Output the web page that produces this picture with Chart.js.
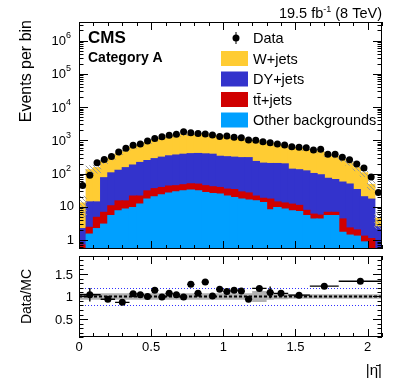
<!DOCTYPE html>
<html>
<head>
<meta charset="utf-8">
<script src="https://cdn.jsdelivr.net/npm/chart.js@4.4.1/dist/chart.umd.min.js"></script>
<style>
  html, body { margin: 0; padding: 0; background: #fff; }
  #wrap { position: relative; width: 407px; height: 383px; }
  #topBox { position: absolute; left: 0; top: 0; width: 407px; height: 253px; }
  #botBox { position: absolute; left: 0; top: 252px; width: 407px; height: 131px; }
</style>
</head>
<body>
<div id="wrap">
  <div id="topBox"><canvas id="mainChart"></canvas></div>
  <div id="botBox"><canvas id="ratioChart"></canvas></div>
</div>
<script>
// bin edges in |eta|
const etaEdges = [0.00, 0.05, 0.10, 0.15, 0.20, 0.25, 0.30, 0.35, 0.40, 0.45, 0.50,
  0.55, 0.60, 0.65, 0.70, 0.75, 0.80, 0.85, 0.90, 0.95, 1.00, 1.05, 1.10, 1.15, 1.20,
  1.25, 1.30, 1.35, 1.40, 1.45, 1.50, 1.55, 1.60, 1.65, 1.70, 1.75, 1.80, 1.85, 1.90,
  1.95, 2.00, 2.05, 2.10];

const dataCounts = [44, 89, 210, 265, 325, 446, 575, 705, 770, 960, 1140, 1280, 1420, 1520,
  1800, 1700, 1600, 1550, 1440, 1310, 1350, 1230, 1200, 1020, 1000, 910, 850, 770, 720, 645,
  615, 600, 510, 535, 380, 380, 310, 260, 195, 147, 79, 27];

const otherBkg = [0.3, 1.5, 2.2, 3.0, 5.4, 7.6, 8.5, 9.5, 12, 17, 20, 23, 26, 28, 30, 32, 30,
  27, 25, 24, 21, 19, 17, 16, 15, 13.4, 8.1, 9.5, 8.5, 7.6, 7.2, 5.4, 4.3, 4.3, 5.4, 5.4, 1.7,
  1.4, 1.3, 0.87, 0.4, 0.3];

const ttJets = [0.4, 0.9, 2.6, 3.8, 5.3, 7.4, 6.5, 11.5, 9, 13, 15, 15, 16, 15, 16, 17, 18, 16,
  15, 14, 13, 14, 11, 10, 6, 4.6, 8.9, 4.5, 4.5, 4.4, 3.8, 2.4, 1.7, 1.3, 1.4, 1.4, 2.6, 0.9,
  0.7, 0.43, 0.7, 0.2];

const dyJets = [1.5, 11.6, 9.2, 68, 94, 110, 135, 159, 194, 215, 245, 272, 298, 317, 334, 346,
  352, 347, 340, 292, 286, 277, 272, 274, 209, 187, 183, 186, 182, 123, 119, 112, 94, 86, 65,
  59, 51, 46, 31, 18.7, 15.9, 2.0];

const wJets = [10.8, 116, 136, 155, 185, 265, 350, 440, 475, 605, 720, 840, 930, 1020, 1090,
  1115, 1100, 1060, 1000, 970, 920, 850, 800, 700, 720, 665, 600, 530, 475, 475, 435, 405, 375,
  353, 283, 259, 205, 157, 117, 85, 30, 2.0];

// relative MC uncertainty (hatched band)
const mcUnc = [0.6, 0.3, 0.3, 0.12, 0.1, 0.08, 0.07, 0.06, 0.06, 0.05, 0.05, 0.05, 0.05, 0.05,
  0.05, 0.05, 0.05, 0.05, 0.05, 0.05, 0.05, 0.05, 0.05, 0.05, 0.05, 0.05, 0.05, 0.05, 0.05,
  0.05, 0.05, 0.05, 0.05, 0.05, 0.07, 0.08, 0.1, 0.12, 0.18, 0.22, 0.3, 0.5];

// ratio panel (coarser binning)
const ratioEdges = [0, 0.15, 0.25, 0.35, 0.40, 0.45, 0.50, 0.55, 0.60, 0.65, 0.70, 0.75, 0.80,
  0.85, 0.90, 0.95, 1.00, 1.05, 1.10, 1.15, 1.20, 1.30, 1.35, 1.45, 1.60, 1.80, 2.10];
const ratioVals = [1.04, 0.94, 0.87, 1.06, 1.04, 1.00, 1.14, 0.99, 1.07, 1.04, 0.99, 1.27, 1.07,
  1.32, 1.01, 1.16, 1.11, 1.14, 1.12, 0.94, 1.18, 1.09, 1.07, 1.03, 1.23, 1.34];
const ratioErrs = [0.15, 0.05, 0.04, 0.06, 0.05, 0.05, 0.06, 0.05, 0.05, 0.05, 0.05, 0.06, 0.05,
  0.06, 0.05, 0.06, 0.06, 0.06, 0.06, 0.06, 0.04, 0.13, 0.05, 0.05, 0.05, 0.06];
const mcBand = [0.16, 0.07, 0.07, 0.07, 0.07, 0.07, 0.07, 0.07, 0.07, 0.07, 0.07, 0.07, 0.07,
  0.07, 0.07, 0.07, 0.07, 0.07, 0.07, 0.07, 0.07, 0.12, 0.07, 0.06, 0.05, 0.05];

const logTicks = [1, 10, 100, 1e3, 1e4, 1e5, 1e6];
const ratioTicks = [0.5, 1, 1.5];
const etaTicks = [0, 0.5, 1, 1.5, 2];

const FONT = "'Liberation Sans', Arial, Helvetica, sans-serif";

const centers = dataCounts.map((_, i) => (etaEdges[i] + etaEdges[i + 1]) / 2);

// floating bars for the stack: [lower, upper]; log axis can't take 0, start just below it
let cum = centers.map(() => 0.01);
function stackLayer(vals) {
  return vals.map((v, i) => {
    const lo = cum[i];
    cum[i] = lo + v;
    return { x: centers[i], y: [lo, lo + v] };
  });
}
const otherLayer = stackLayer(otherBkg);
const ttLayer = stackLayer(ttJets);
const dyLayer = stackLayer(dyJets);
const wLayer = stackLayer(wJets);
const uncLayer = cum.map((t, i) => ({ x: centers[i], y: [t * (1 - mcUnc[i]), t * (1 + mcUnc[i])] }));

function hatch() {
  const c = document.createElement('canvas');
  c.width = 4; c.height = 4;
  const g = c.getContext('2d');
  g.strokeStyle = 'rgba(150,150,150,0.9)';
  g.lineWidth = 1;
  g.beginPath();
  g.moveTo(0, 0); g.lineTo(4, 4);
  g.moveTo(-1, 3); g.lineTo(1, 5);
  g.moveTo(3, -1); g.lineTo(5, 1);
  g.stroke();
  return g.createPattern(c, 'repeat');
}

function barSet(label, data, color, order) {
  return {
    type: 'bar', label, data, backgroundColor: color, borderWidth: 0, inflateAmount: 0.6,
    barPercentage: 1, categoryPercentage: 1, grouped: false, order, clip: 0
  };
}

function drawTicks(ctx, a, xs, ys, yMinor) {
  ctx.beginPath();
  for (let k = 0; k <= 21; k++) {
    const px = Math.round(xs.getPixelForValue(k / 10)) + 0.5;
    const len = k % 5 === 0 ? 8 : 4;
    ctx.moveTo(px, a.bottom); ctx.lineTo(px, a.bottom - len);
    ctx.moveTo(px, a.top); ctx.lineTo(px, a.top + len);
  }
  yMinor.forEach(([v, major]) => {
    const py = Math.round(ys.getPixelForValue(v)) + 0.5;
    const len = major ? 9 : 4.5;
    ctx.moveTo(a.left, py); ctx.lineTo(a.left + len, py);
    ctx.moveTo(a.right, py); ctx.lineTo(a.right - len, py);
  });
  ctx.stroke();
  ctx.strokeRect(a.left + 0.5, a.top + 0.5, a.right - a.left - 1, a.bottom - a.top - 1);
}

const topDecor = {
  id: 'topDecor',
  afterDraw(chart) {
    const { ctx, chartArea: a, scales: { x, y } } = chart;
    ctx.save();
    ctx.strokeStyle = '#000';
    ctx.lineWidth = 1;
    const marks = [];
    for (let e = -1; e <= 6; e++) {
      for (let m = 1; m <= 9; m++) {
        const v = m * Math.pow(10, e);
        if (v >= y.min && v <= y.max) marks.push([v, m === 1]);
      }
    }
    drawTicks(ctx, a, x, y, marks);

    // y tick labels
    ctx.fillStyle = '#000';
    ctx.textBaseline = 'middle';
    ctx.textAlign = 'right';
    logTicks.forEach(v => {
      const py = y.getPixelForValue(v);
      const exp = Math.round(Math.log10(v));
      if (exp < 2) {
        ctx.font = `13px ${FONT}`;
        ctx.fillText(String(v), a.left - 5, py);
      } else {
        ctx.font = `9px ${FONT}`;
        const ew = ctx.measureText(String(exp)).width;
        ctx.fillText(String(exp), a.left - 8, py - 5);
        ctx.font = `13px ${FONT}`;
        ctx.fillText('10', a.left - 8 - ew, py + 1);
      }
    });

    // axis title
    ctx.save();
    ctx.translate(27, 20);
    ctx.rotate(-Math.PI / 2);
    ctx.font = `16px ${FONT}`;
    ctx.textAlign = 'right';
    ctx.textBaseline = 'middle';
    ctx.fillText('Events per bin', 0, 0);
    ctx.restore();

    // lumi label
    ctx.textBaseline = 'alphabetic';
    ctx.font = `14.5px ${FONT}`;
    const tail = ' (8 TeV)';
    const head = '19.5 fb';
    const tw = ctx.measureText(tail).width;
    ctx.font = `9px ${FONT}`;
    const sw = ctx.measureText('-1').width;
    ctx.font = `14.5px ${FONT}`;
    ctx.textAlign = 'right';
    ctx.fillText(tail, a.right, 18);
    ctx.font = `9px ${FONT}`;
    ctx.fillText('-1', a.right - tw, 12);
    ctx.font = `14.5px ${FONT}`;
    ctx.fillText(head, a.right - tw - sw, 18);

    // CMS labels
    ctx.textAlign = 'left';
    ctx.font = `bold 17px ${FONT}`;
    ctx.fillText('CMS', 88, 43);
    ctx.font = `bold 14px ${FONT}`;
    ctx.fillText('Category A', 88, 62);

    // legend
    ctx.font = `14.5px ${FONT}`;
    ctx.textBaseline = 'middle';
    const rowY = [38, 58.5, 79, 99.5, 120];
    ctx.fillStyle = '#000';
    ctx.beginPath();
    ctx.arc(236, rowY[0], 3.5, 0, Math.PI * 2);
    ctx.fill();
    ctx.fillRect(235.5, rowY[0] - 6, 1, 12);
    ctx.fillText('Data', 253, rowY[0] + 1);
    const legendSets = [3, 2, 1, 0].map(i => chart.data.datasets[i]);
    legendSets.forEach((ds, k) => {
      const cy = rowY[k + 1];
      ctx.fillStyle = ds.backgroundColor;
      ctx.fillRect(221, cy - 7.5, 27, 15);
      ctx.fillStyle = '#000';
      ctx.fillText(ds.label, 253, cy + 1);
    });
    ctx.restore();
  }
};

const ratioDecor = {
  id: 'ratioDecor',
  beforeDatasetDraw(chart, args) {
    if (args.index !== 2) return;
    const { ctx, chartArea: a, scales: { x, y } } = chart;
    ctx.save();
    ctx.lineWidth = 1;
    ctx.strokeStyle = '#3030ff';
    ctx.setLineDash([1, 2]);
    [0.8, 1.2].forEach(v => {
      const py = Math.round(y.getPixelForValue(v)) + 0.5;
      ctx.beginPath(); ctx.moveTo(a.left, py); ctx.lineTo(a.right, py); ctx.stroke();
    });
    ctx.strokeStyle = '#000';
    ctx.lineWidth = 2;
    ctx.setLineDash([3, 2]);
    const p1 = y.getPixelForValue(1);
    ctx.beginPath(); ctx.moveTo(a.left, p1); ctx.lineTo(a.right, p1); ctx.stroke();
    ctx.setLineDash([]);
    ctx.lineWidth = 1.4;
    ratioVals.forEach((v, i) => {
      const py = y.getPixelForValue(v);
      ctx.beginPath();
      ctx.moveTo(x.getPixelForValue(ratioEdges[i]), py);
      ctx.lineTo(x.getPixelForValue(ratioEdges[i + 1]), py);
      const px = x.getPixelForValue((ratioEdges[i] + ratioEdges[i + 1]) / 2);
      ctx.moveTo(px, y.getPixelForValue(v - ratioErrs[i]));
      ctx.lineTo(px, y.getPixelForValue(v + ratioErrs[i]));
      ctx.stroke();
    });
    ctx.restore();
  },
  afterDraw(chart) {
    const { ctx, chartArea: a, scales: { x, y } } = chart;
    ctx.save();
    ctx.strokeStyle = '#000';
    ctx.lineWidth = 1;
    const marks = [];
    for (let k = 1; k <= 19; k++) marks.push([k / 10, k % 5 === 0]);
    drawTicks(ctx, a, x, y, marks);

    ctx.fillStyle = '#000';
    ctx.font = `13px ${FONT}`;
    ctx.textAlign = 'right';
    ctx.textBaseline = 'middle';
    ratioTicks.forEach(v => ctx.fillText(String(v), a.left - 6, y.getPixelForValue(v) + 1));
    ctx.textAlign = 'center';
    ctx.textBaseline = 'top';
    etaTicks.forEach(v => ctx.fillText(String(v), x.getPixelForValue(v), a.bottom + 4));

    ctx.save();
    ctx.translate(27, (a.top + a.bottom) / 2);
    ctx.rotate(-Math.PI / 2);
    ctx.font = `14px ${FONT}`;
    ctx.textAlign = 'center';
    ctx.textBaseline = 'middle';
    ctx.fillText('Data/MC', 0, 0);
    ctx.restore();

    ctx.font = `15px ${FONT}`;
    ctx.textAlign = 'right';
    ctx.textBaseline = 'alphabetic';
    ctx.fillText('|\u03B7\u0304|', a.right, a.bottom + 38);
    ctx.restore();
  }
};

new Chart(document.getElementById('mainChart').getContext('2d'), {
  type: 'bar',
  data: {
    datasets: [
      barSet('Other backgrounds', otherLayer, '#00a0ff', 3),
      barSet('t\u0074\u0304+jets', ttLayer, '#d00000', 3),
      barSet('DY+jets', dyLayer, '#3333cc', 3),
      barSet('W+jets', wLayer, '#ffcc33', 3),
      barSet('MC unc.', uncLayer, hatch(), 2),
      {
        type: 'line', label: 'Data', showLine: false, order: 1,
        data: dataCounts.map((v, i) => ({ x: centers[i], y: v })),
        pointRadius: 3.5, pointBackgroundColor: '#000', pointBorderWidth: 0
      }
    ]
  },
  options: {
    responsive: true, maintainAspectRatio: false, animation: false, devicePixelRatio: 1,
    layout: { padding: { left: 79, right: 25, top: 22, bottom: 1 } },
    plugins: { legend: { display: false }, tooltip: { enabled: false } },
    scales: {
      x: { type: 'linear', min: 0, max: 2.1, offset: false, display: false },
      y: { type: 'logarithmic', min: 0.54, max: 3.6e6, display: false }
    }
  },
  plugins: [topDecor]
});

function stepLine(vals, sign) {
  const pts = vals.map((v, i) => ({ x: ratioEdges[i], y: 1 + sign * v }));
  pts.push({ x: ratioEdges[ratioEdges.length - 1], y: 1 + sign * vals[vals.length - 1] });
  return pts;
}

new Chart(document.getElementById('ratioChart').getContext('2d'), {
  type: 'line',
  data: {
    datasets: [
      { label: 'band hi', data: stepLine(mcBand, 1), stepped: 'after', borderWidth: 0,
        pointRadius: 0, fill: false, order: 1 },
      { label: 'band lo', data: stepLine(mcBand, -1), stepped: 'after', borderWidth: 0,
        pointRadius: 0, fill: '-1', backgroundColor: 'rgba(170,170,170,0.9)', order: 1 },
      { label: 'ratio', showLine: false, order: 0,
        data: ratioVals.map((v, i) => ({ x: (ratioEdges[i] + ratioEdges[i + 1]) / 2, y: v })),
        pointRadius: 3.5, pointBackgroundColor: '#000', pointBorderWidth: 0 }
    ]
  },
  options: {
    responsive: true, maintainAspectRatio: false, animation: false, devicePixelRatio: 1,
    layout: { padding: { left: 79, right: 25, top: 0, bottom: 46 } },
    plugins: { legend: { display: false }, tooltip: { enabled: false } },
    scales: {
      x: { type: 'linear', min: 0, max: 2.1, display: false },
      y: { type: 'linear', min: 0.1, max: 1.9, display: false }
    }
  },
  plugins: [ratioDecor]
});
</script>
</body>
</html>
